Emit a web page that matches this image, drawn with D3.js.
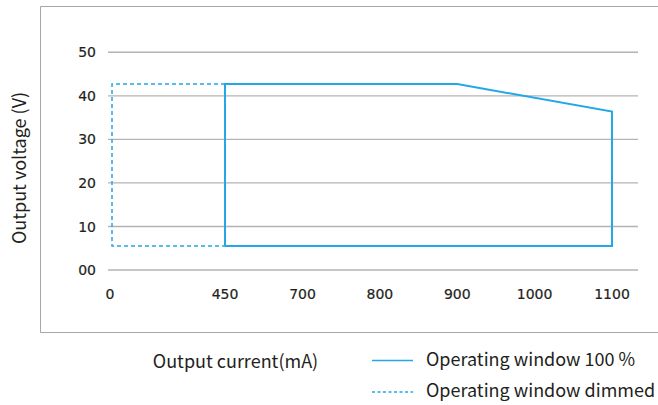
<!DOCTYPE html>
<html><head><meta charset="utf-8">
<script src="https://cdn.jsdelivr.net/npm/d3@7"></script>
<style>
html,body{margin:0;padding:0;background:#fff;}
svg{display:block;}
</style></head>
<body>
<svg id="c" width="658" height="405"></svg>
<script>
// ---- data ----
const xTickValues = [0, 450, 700, 800, 900, 1000, 1100];
const xTickLabels = ["0", "450", "700", "800", "900", "1000", "1100"];
const yTickValues = [0, 10, 20, 30, 40, 50];
const yTickLabels = ["00", "10", "20", "30", "40", "50"];
// Operating window 100 % (current mA, voltage V)
const window100Current = [450, 450, 900, 1100, 1100, 450];
const window100Voltage = [5.5, 42.7, 42.7, 36.4, 5.5, 5.5];
// Operating window dimmed
const dimmedCurrent = [450, 0, 0, 450];
const dimmedVoltage = [42.7, 42.7, 5.5, 5.5];
const legendLabels = ["Operating window 100 %", "Operating window dimmed"];
const xTitle = "Output current(mA)";
const yTitle = "Output voltage (V)";

// ---- layout ----
const svg = d3.select("#c");
const blue = "#22a8e6";
const grid = "#b3b3b3";
const textCol = "#231f20";
const uiFont = "'Noto Sans CJK SC','Noto Sans',sans-serif";
const tickFont = "'DejaVu Sans',sans-serif";

const gridLeft = 108, gridRight = 638;
// piecewise x scale (axis is not uniformly spaced)
const x = d3.scaleLinear()
  .domain([0, 450, 700, 1100])
  .range([112, 225, 302.5, 612]);
const y = d3.scaleLinear().domain([0, 50]).range([270, 52.3]);

// frame
svg.append("path")
  .attr("d", `M658.5,6.5H40.5V332.5H658.5`)
  .attr("fill", "none").attr("stroke", "#a6a6a6").attr("stroke-width", 1);

// grid lines
svg.append("g").selectAll("line").data(yTickValues).join("line")
  .attr("x1", gridLeft).attr("x2", gridRight)
  .attr("y1", d => y(d)).attr("y2", d => y(d))
  .attr("stroke", grid).attr("stroke-width", 1.4);

// y tick labels
svg.append("g").selectAll("text").data(yTickValues).join("text")
  .attr("x", 96).attr("y", d => y(d)).attr("dy", "0.36em")
  .attr("text-anchor", "end")
  .attr("font-family", tickFont).attr("font-size", 14).attr("fill", textCol)
  .attr("stroke", textCol).attr("stroke-width", 0.2)
  .text((d, i) => yTickLabels[i]);

// x tick labels
svg.append("g").selectAll("text").data(xTickValues).join("text")
  .attr("x", (d, i) => i === 0 ? x(d) - 2 : x(d)).attr("y", 294).attr("dy", "0.36em")
  .attr("text-anchor", "middle")
  .attr("font-family", tickFont).attr("font-size", 14).attr("fill", textCol)
  .attr("stroke", textCol).attr("stroke-width", 0.2)
  .text((d, i) => xTickLabels[i]);

const line = d3.line().x(d => x(d[0])).y(d => y(d[1]));

// dimmed window (dashed)
svg.append("path")
  .datum(dimmedCurrent.map((c, i) => [c, dimmedVoltage[i]]))
  .attr("d", line)
  .attr("fill", "none").attr("stroke", blue).attr("stroke-width", 1.5)
  .attr("stroke-dasharray", "4,3");

// 100% window (solid)
svg.append("path")
  .datum(window100Current.map((c, i) => [c, window100Voltage[i]]))
  .attr("d", line)
  .attr("fill", "none").attr("stroke", blue).attr("stroke-width", 2)
  .attr("stroke-linejoin", "miter");

// axis titles
svg.append("text")
  .attr("x", 235.5).attr("y", 361.5).attr("dy", "0.36em")
  .attr("text-anchor", "middle")
  .attr("font-family", uiFont).attr("font-size", 18).attr("fill", textCol)
  .text(xTitle);

svg.append("text")
  .attr("transform", "translate(20,168) rotate(-90)")
  .attr("dy", "0.36em")
  .attr("text-anchor", "middle")
  .attr("font-family", uiFont).attr("font-size", 18).attr("fill", textCol)
  .text(yTitle);

// legend
const legY = [360.5, 392];
const leg = svg.append("g");
legendLabels.forEach((lab, i) => {
  leg.append("line")
    .attr("x1", 372).attr("x2", 413).attr("y1", legY[i]).attr("y2", legY[i])
    .attr("stroke", blue).attr("stroke-width", 1.3)
    .attr("stroke-dasharray", i === 1 ? "3,2.5" : null);
  leg.append("text")
    .attr("x", 426).attr("y", legY[i] - 1).attr("dy", "0.36em")
    .attr("font-family", uiFont).attr("font-size", 18).attr("fill", textCol)
    .text(lab);
});
</script>
</body></html>
